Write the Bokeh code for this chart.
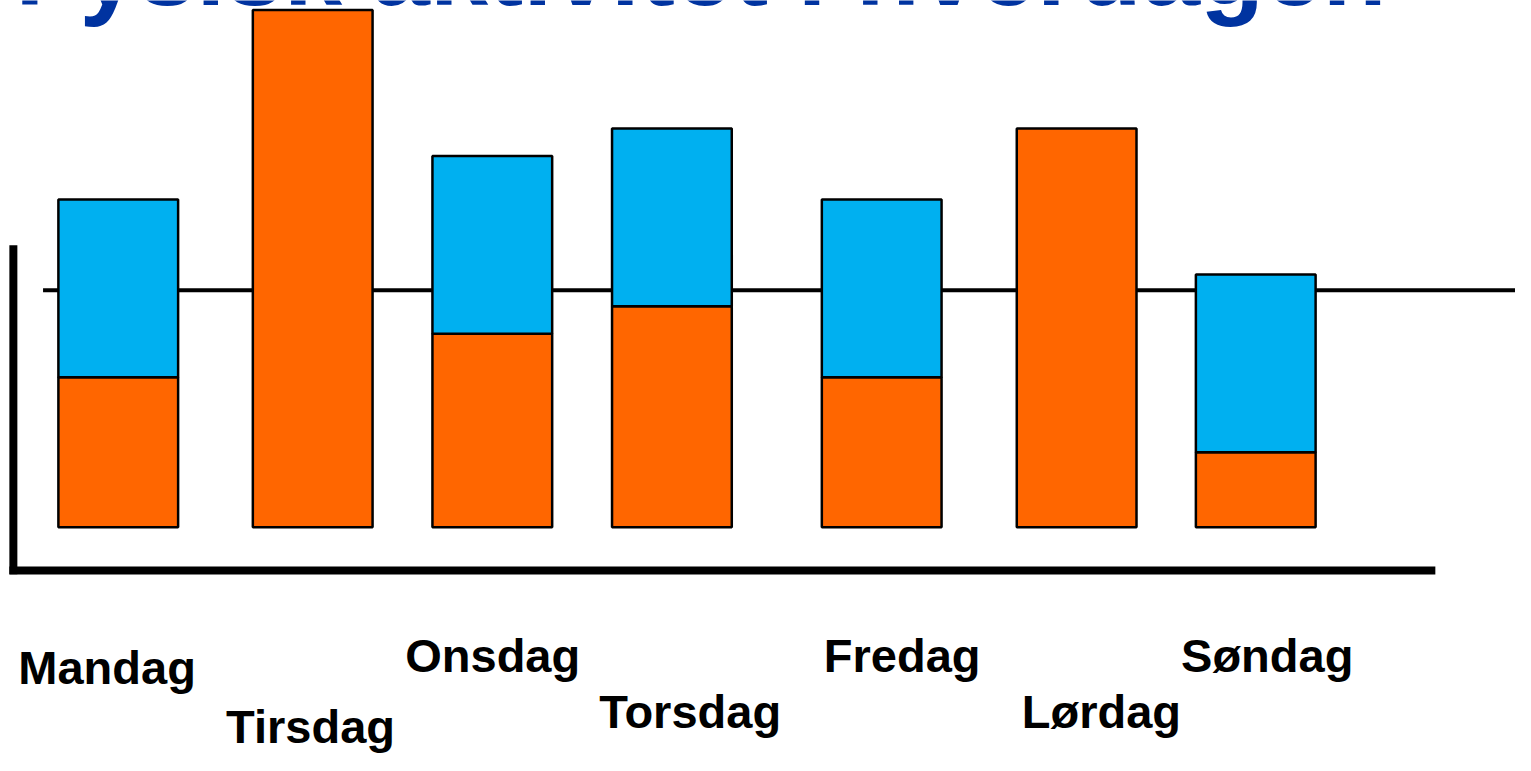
from bokeh.plotting import figure
from bokeh.models import ColumnDataSource, Range1d
from bokeh.core.properties import value
from bokeh.embed import file_html
from bokeh.resources import INLINE

# ---------------- data ----------------
title_text = "Fysisk aktivitet i hverdagen"
days = ["Mandag", "Tirsdag", "Onsdag", "Torsdag", "Fredag", "Lørdag", "Søndag"]
orange_values = [38, 131, 49, 56, 38, 101, 19]
blue_values = [45, 0, 45, 45, 45, 0, 45]
reference_level = 60

# ---------------- layout (slide-pixel space, 1531 x 771) ----------------
W, H = 1515, 755
SLIDE_W, SLIDE_H = 1531, 771
BASE_Y = 538                      # slide pixel row of value 0
PX_PER_UNIT = (538 - 296) / 60.0  # slide pixels per value unit

bar_centers = [119, 315.5, 497, 678.5, 890.5, 1087.5, 1268.5]
bar_width = 121
label_left = [18, 228, 409, 605, 832, 1032, 1193]
label_base = [700, 760, 688, 745, 688, 745, 688]

LABEL_FS = 47
TITLE_FS = 105
BASELINE_FIX = 0.39   # empirical: rendered alphabetic baseline sits lower by this * font size


def yv(py):
    """slide pixel row -> value units"""
    return (BASE_Y - py) / PX_PER_UNIT


p = figure(width=W, height=H,
           x_range=Range1d(0, SLIDE_W),
           y_range=Range1d(yv(SLIDE_H), yv(0)),
           output_backend="svg", toolbar_location=None,
           min_border=0, min_border_left=0, min_border_right=0,
           min_border_top=0, min_border_bottom=0)
p.axis.visible = False
p.grid.visible = False
p.outline_line_color = None
p.background_fill_color = "white"
p.border_fill_color = "white"

# reference line (behind bars)
p.segment(x0=[43], x1=[1540], y0=[reference_level], y1=[reference_level],
          line_color="black", line_width=4)

# bars
tops = [o + b for o, b in zip(orange_values, blue_values)]
src_o = ColumnDataSource(dict(x=bar_centers, top=orange_values, day=days))
p.vbar(x="x", width=bar_width, bottom=0, top="top", source=src_o,
       fill_color="#FF6600", line_color="black", line_width=2.5)

bx = [x for x, b in zip(bar_centers, blue_values) if b > 0]
bb = [o for o, b in zip(orange_values, blue_values) if b > 0]
bt = [t for t, b in zip(tops, blue_values) if b > 0]
src_b = ColumnDataSource(dict(x=bx, bottom=bb, top=bt))
p.vbar(x="x", width=bar_width, bottom="bottom", top="top", source=src_b,
       fill_color="#00B0F0", line_color="black", line_width=2.5)

# decorative axes
p.segment(x0=[13], x1=[13], y0=[yv(250)], y1=[yv(586)],
          line_color="black", line_width=8)
p.segment(x0=[9], x1=[1450], y0=[yv(582)], y1=[yv(582)],
          line_color="black", line_width=8)

# day labels
p.text(x=label_left, y=[yv(b) for b in label_base], text=days,
       y_offset=-BASELINE_FIX * LABEL_FS,
       text_font=value("Liberation Sans"), text_font_style="bold",
       text_font_size=f"{LABEL_FS}px", text_color="black",
       text_align="left", text_baseline="alphabetic")

# title (cut off at the top, as in the slide)
p.text(x=[15], y=[yv(9)], text=[title_text],
       y_offset=-BASELINE_FIX * TITLE_FS,
       text_font=value("Liberation Sans"), text_font_style="bold",
       text_font_size=f"{TITLE_FS}px", text_color="#0033A0",
       text_align="left", text_baseline="alphabetic")

open("out.html", "w").write(file_html(p, INLINE))
